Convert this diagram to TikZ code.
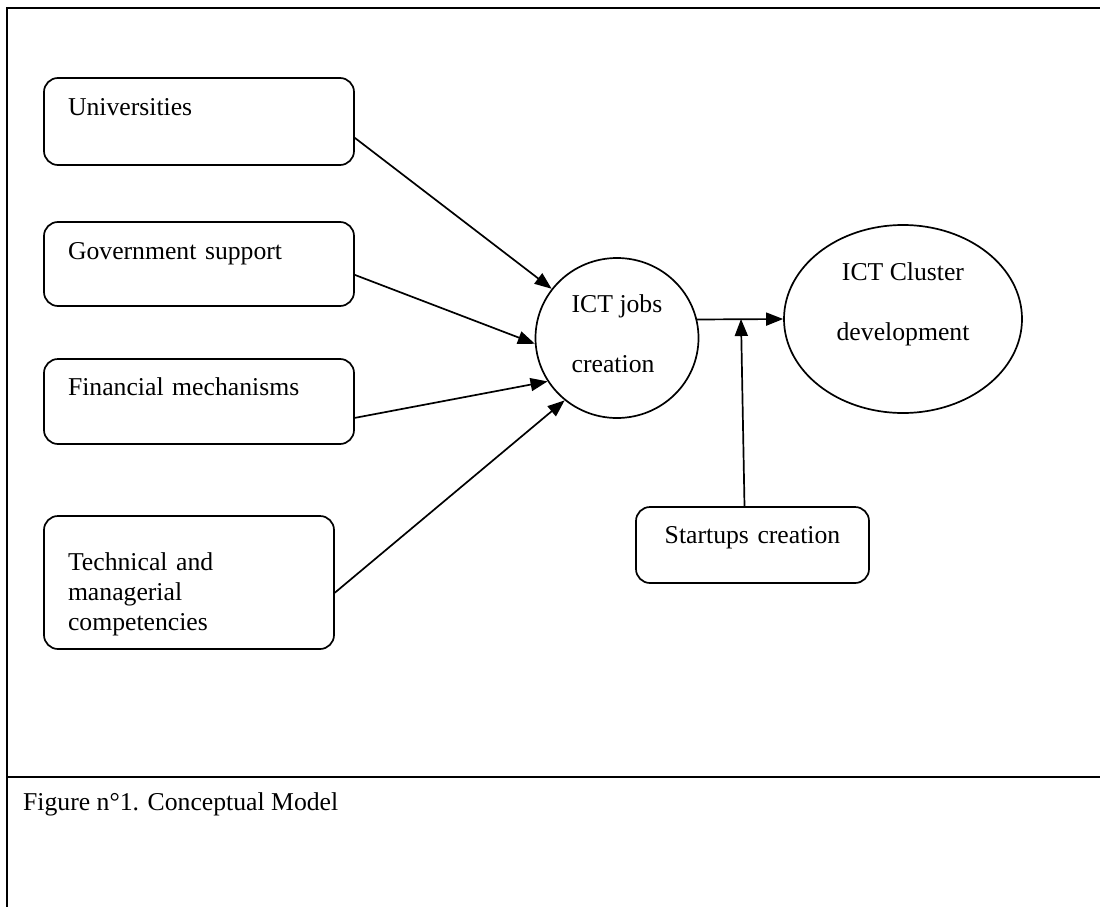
\documentclass[tikz,border=0pt]{standalone}
\usepackage{fontspec}
\setmainfont{Liberation Serif}
\usetikzlibrary{shapes.geometric,arrows.meta}

\begin{document}
\begin{tikzpicture}[x=1pt,y=-1pt,
  every node/.style={font=\fontsize{25.7}{30}\selectfont},
  box/.style={draw,line width=1.7pt,rounded corners=14pt,inner xsep=24pt,inner ysep=0pt,align=left},
  oval/.style={draw,ellipse,line width=1.7pt,inner sep=0pt},
  arr/.style={line width=1.7pt,-{Triangle[length=17pt,width=13pt]}},
  frame/.style={line width=2.4pt}]
\useasboundingbox (0,0) rectangle (1100,907);
\draw[frame] (1100,8) -- (7,8) -- (7,907);
\draw[frame] (7,777) -- (1100,777);
\node[box,text width=262pt,text height=37pt,text depth=50pt] (univ) at (199,121.5){Universities};
\node[box,text width=262pt,text height=37pt,text depth=47pt] (gov) at (199,264){Government support};
\node[box,text width=262pt,text height=36pt,text depth=49pt] (fin) at (199,401.5){Financial mechanisms};
\node[box,text width=242pt,text height=54pt,text depth=79pt] (tech) at (189,582.5){Technical and\\managerial\\competencies};
\node[oval,minimum width=163pt,minimum height=160pt,align=left,text depth=8pt] (jobs) at (617,338){ICT jobs\\[30pt]creation};
\node[oval,minimum width=238pt,minimum height=188pt,align=center,text depth=35pt] (cluster) at (903,319){ICT Cluster\\[30pt]development};
\node[box,text width=185pt,text height=36pt,text depth=40pt,align=center] (start) at (752.5,545){Startups creation};
\coordinate (meet) at (741,319);
\draw[arr] (univ.-6) -- (jobs.143);
\draw[arr] (gov.-4) -- (jobs.184);
\draw[arr] (fin.-6) -- (jobs.212);
\draw[arr] (tech.-4) -- (jobs.230);
\draw[arr] (jobs.13) -- (cluster.west);
\draw[arr] ([xshift=-8pt]start.north) -- (meet);
\node[anchor=base west,inner sep=0pt] (cap) at (23,810){Figure n°1. Conceptual Model};
\end{tikzpicture}
\end{document}
